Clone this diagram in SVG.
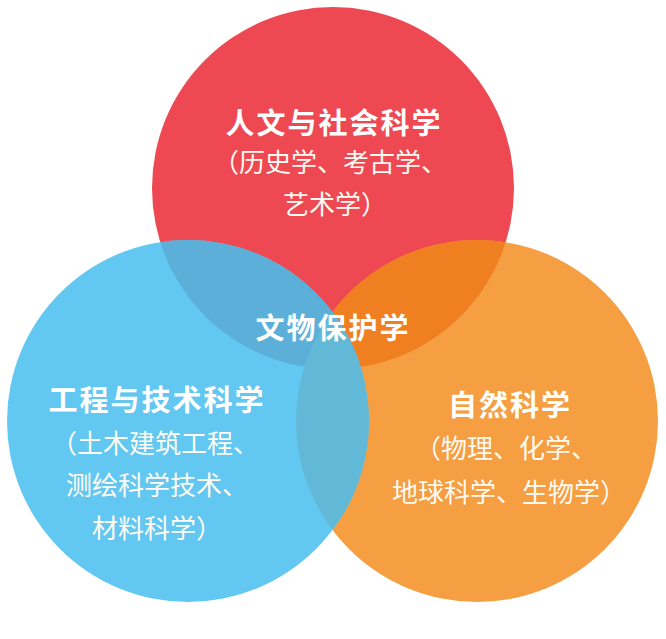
<svg xmlns="http://www.w3.org/2000/svg" width="666" height="639" viewBox="0 0 666 639">
<defs>
<style>
.t{font-family:"Noto Sans CJK SC","Noto Sans",sans-serif;fill:#ffffff;text-anchor:middle;font-weight:700;font-size:29px;letter-spacing:2px}
.s{font-family:"Noto Sans CJK SC","Noto Sans",sans-serif;fill:#fffaf2;text-anchor:middle;font-weight:400;font-size:26px}
</style>
<clipPath id="cRed"><circle cx="333" cy="188" r="181"/></clipPath>
<clipPath id="cOrange"><circle cx="477" cy="421" r="181"/></clipPath>
</defs>
<rect width="666" height="639" fill="#ffffff"/>
<g id="humanities">
<circle cx="333" cy="188" r="181" fill="#EE4853"/>
</g>
<g id="natural">
<circle cx="477" cy="421" r="181" fill="#F59E42"/>
<circle cx="477" cy="421" r="181" fill="#F07F22" clip-path="url(#cRed)"/>
</g>
<g id="engineering">
<circle cx="188" cy="421" r="181" fill="#62C8F1"/>
<circle cx="188" cy="421" r="181" fill="#5BAFD8" clip-path="url(#cRed)"/>
<g clip-path="url(#cOrange)"><circle cx="188" cy="421" r="181" fill="#62B9D7"/></g>
</g>
<g id="connectors"/>
<g id="humanities-label">
<text class="t" x="334" y="134">人文与社会科学</text>
<text class="s" x="330" y="172">（历史学、考古学、</text>
<text class="s" x="335" y="214">艺术学）</text>
</g>
<g id="engineering-label">
<text class="t" x="157" y="411">工程与技术科学</text>
<text class="s" x="155" y="453">（土木建筑工程、</text>
<text class="s" x="157" y="495">测绘科学技术、</text>
<text class="s" x="157" y="538">材料科学）</text>
</g>
<g id="natural-label">
<text class="t" x="510" y="416">自然科学</text>
<text class="s" x="506" y="458">（物理、化学、</text>
<text class="s" x="509" y="502">地球科学、生物学）</text>
</g>
<g id="center">
<text class="t" x="333" y="339">文物保护学</text>
</g>
</svg>
